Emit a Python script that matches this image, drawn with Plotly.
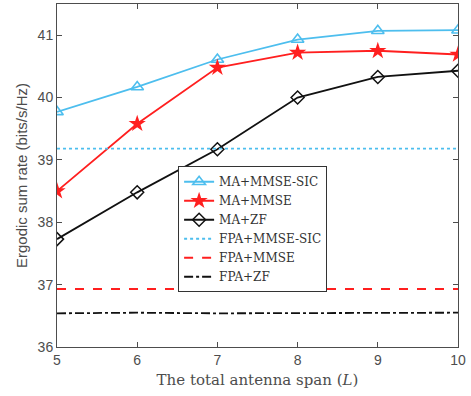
import plotly.graph_objects as go

L = [5, 6, 7, 8, 9, 10]
ma_mmse_sic = [39.77, 40.17, 40.61, 40.93, 41.07, 41.08]
ma_mmse = [38.50, 39.58, 40.48, 40.72, 40.75, 40.69]
ma_zf = [37.73, 38.48, 39.17, 40.00, 40.33, 40.43]
fpa_mmse_sic = [39.18, 39.18, 39.18, 39.18, 39.18, 39.18]
fpa_mmse = [36.93, 36.93, 36.93, 36.94, 36.94, 36.93]
fpa_zf = [36.54, 36.55, 36.54, 36.54, 36.55, 36.55]

CYAN = "#4DBEEE"
RED = "#FF1F1F"
BLACK = "#111111"

fig = go.Figure()
fig.add_trace(go.Scatter(x=L, y=ma_mmse_sic, name="MA+MMSE-SIC", mode="lines+markers",
                         line=dict(color=CYAN, width=1.8),
                         marker=dict(symbol="triangle-up-open", size=11, color=CYAN, line=dict(width=1.6))))
fig.add_trace(go.Scatter(x=L, y=ma_mmse, name="MA+MMSE", mode="lines+markers",
                         line=dict(color=RED, width=1.8),
                         marker=dict(symbol="star", size=13, color=RED)))
fig.add_trace(go.Scatter(x=L, y=ma_zf, name="MA+ZF", mode="lines+markers",
                         line=dict(color=BLACK, width=1.8),
                         marker=dict(symbol="diamond-open", size=10, color=BLACK, line=dict(width=1.5))))
fig.add_trace(go.Scatter(x=L, y=fpa_mmse_sic, name="FPA+MMSE-SIC", mode="lines",
                         line=dict(color=CYAN, width=1.8, dash="dot")))
fig.add_trace(go.Scatter(x=L, y=fpa_mmse, name="FPA+MMSE", mode="lines",
                         line=dict(color=RED, width=1.8, dash="dash")))
fig.add_trace(go.Scatter(x=L, y=fpa_zf, name="FPA+ZF", mode="lines",
                         line=dict(color=BLACK, width=1.8, dash="dashdot")))

axis_common = dict(showgrid=False, zeroline=False, showline=True, linecolor="#4d4d4d", linewidth=1,
                   mirror="ticks", ticks="inside", ticklen=5, tickcolor="#4d4d4d",
                   tickfont=dict(family="Liberation Sans, Arial", size=14, color="#4d4d4d"))

fig.update_layout(
    width=471, height=396,
    margin=dict(l=57, r=13, t=4, b=49),
    paper_bgcolor="white", plot_bgcolor="white",
    xaxis=dict(range=[5, 10], tickvals=L, ticktext=[str(v) for v in L],
               title=dict(text="The total antenna span (<i>L</i>)", standoff=7,
                          font=dict(family="DejaVu Serif", size=15, color="#4d4d4d")),
               automargin=False, **axis_common),
    yaxis=dict(range=[36, 41.5], tickvals=[36, 37, 38, 39, 40, 41],
               title=dict(text="Ergodic sum rate (bits/s/Hz)", standoff=6,
                          font=dict(family="Liberation Sans, Arial", size=15, color="#4d4d4d")),
               automargin=False, **axis_common),
    legend=dict(x=0.302, y=0.527, xanchor="left", yanchor="top",
                bgcolor="white", bordercolor="#333333", borderwidth=1,
                font=dict(family="DejaVu Serif", size=12, color="#333333"),
                tracegroupgap=0, itemwidth=30),
    showlegend=True,
)

fig.write_html("out.html", config={"displayModeBar": False},
               post_script="document.body.style.margin='0';document.body.style.padding='0';")
